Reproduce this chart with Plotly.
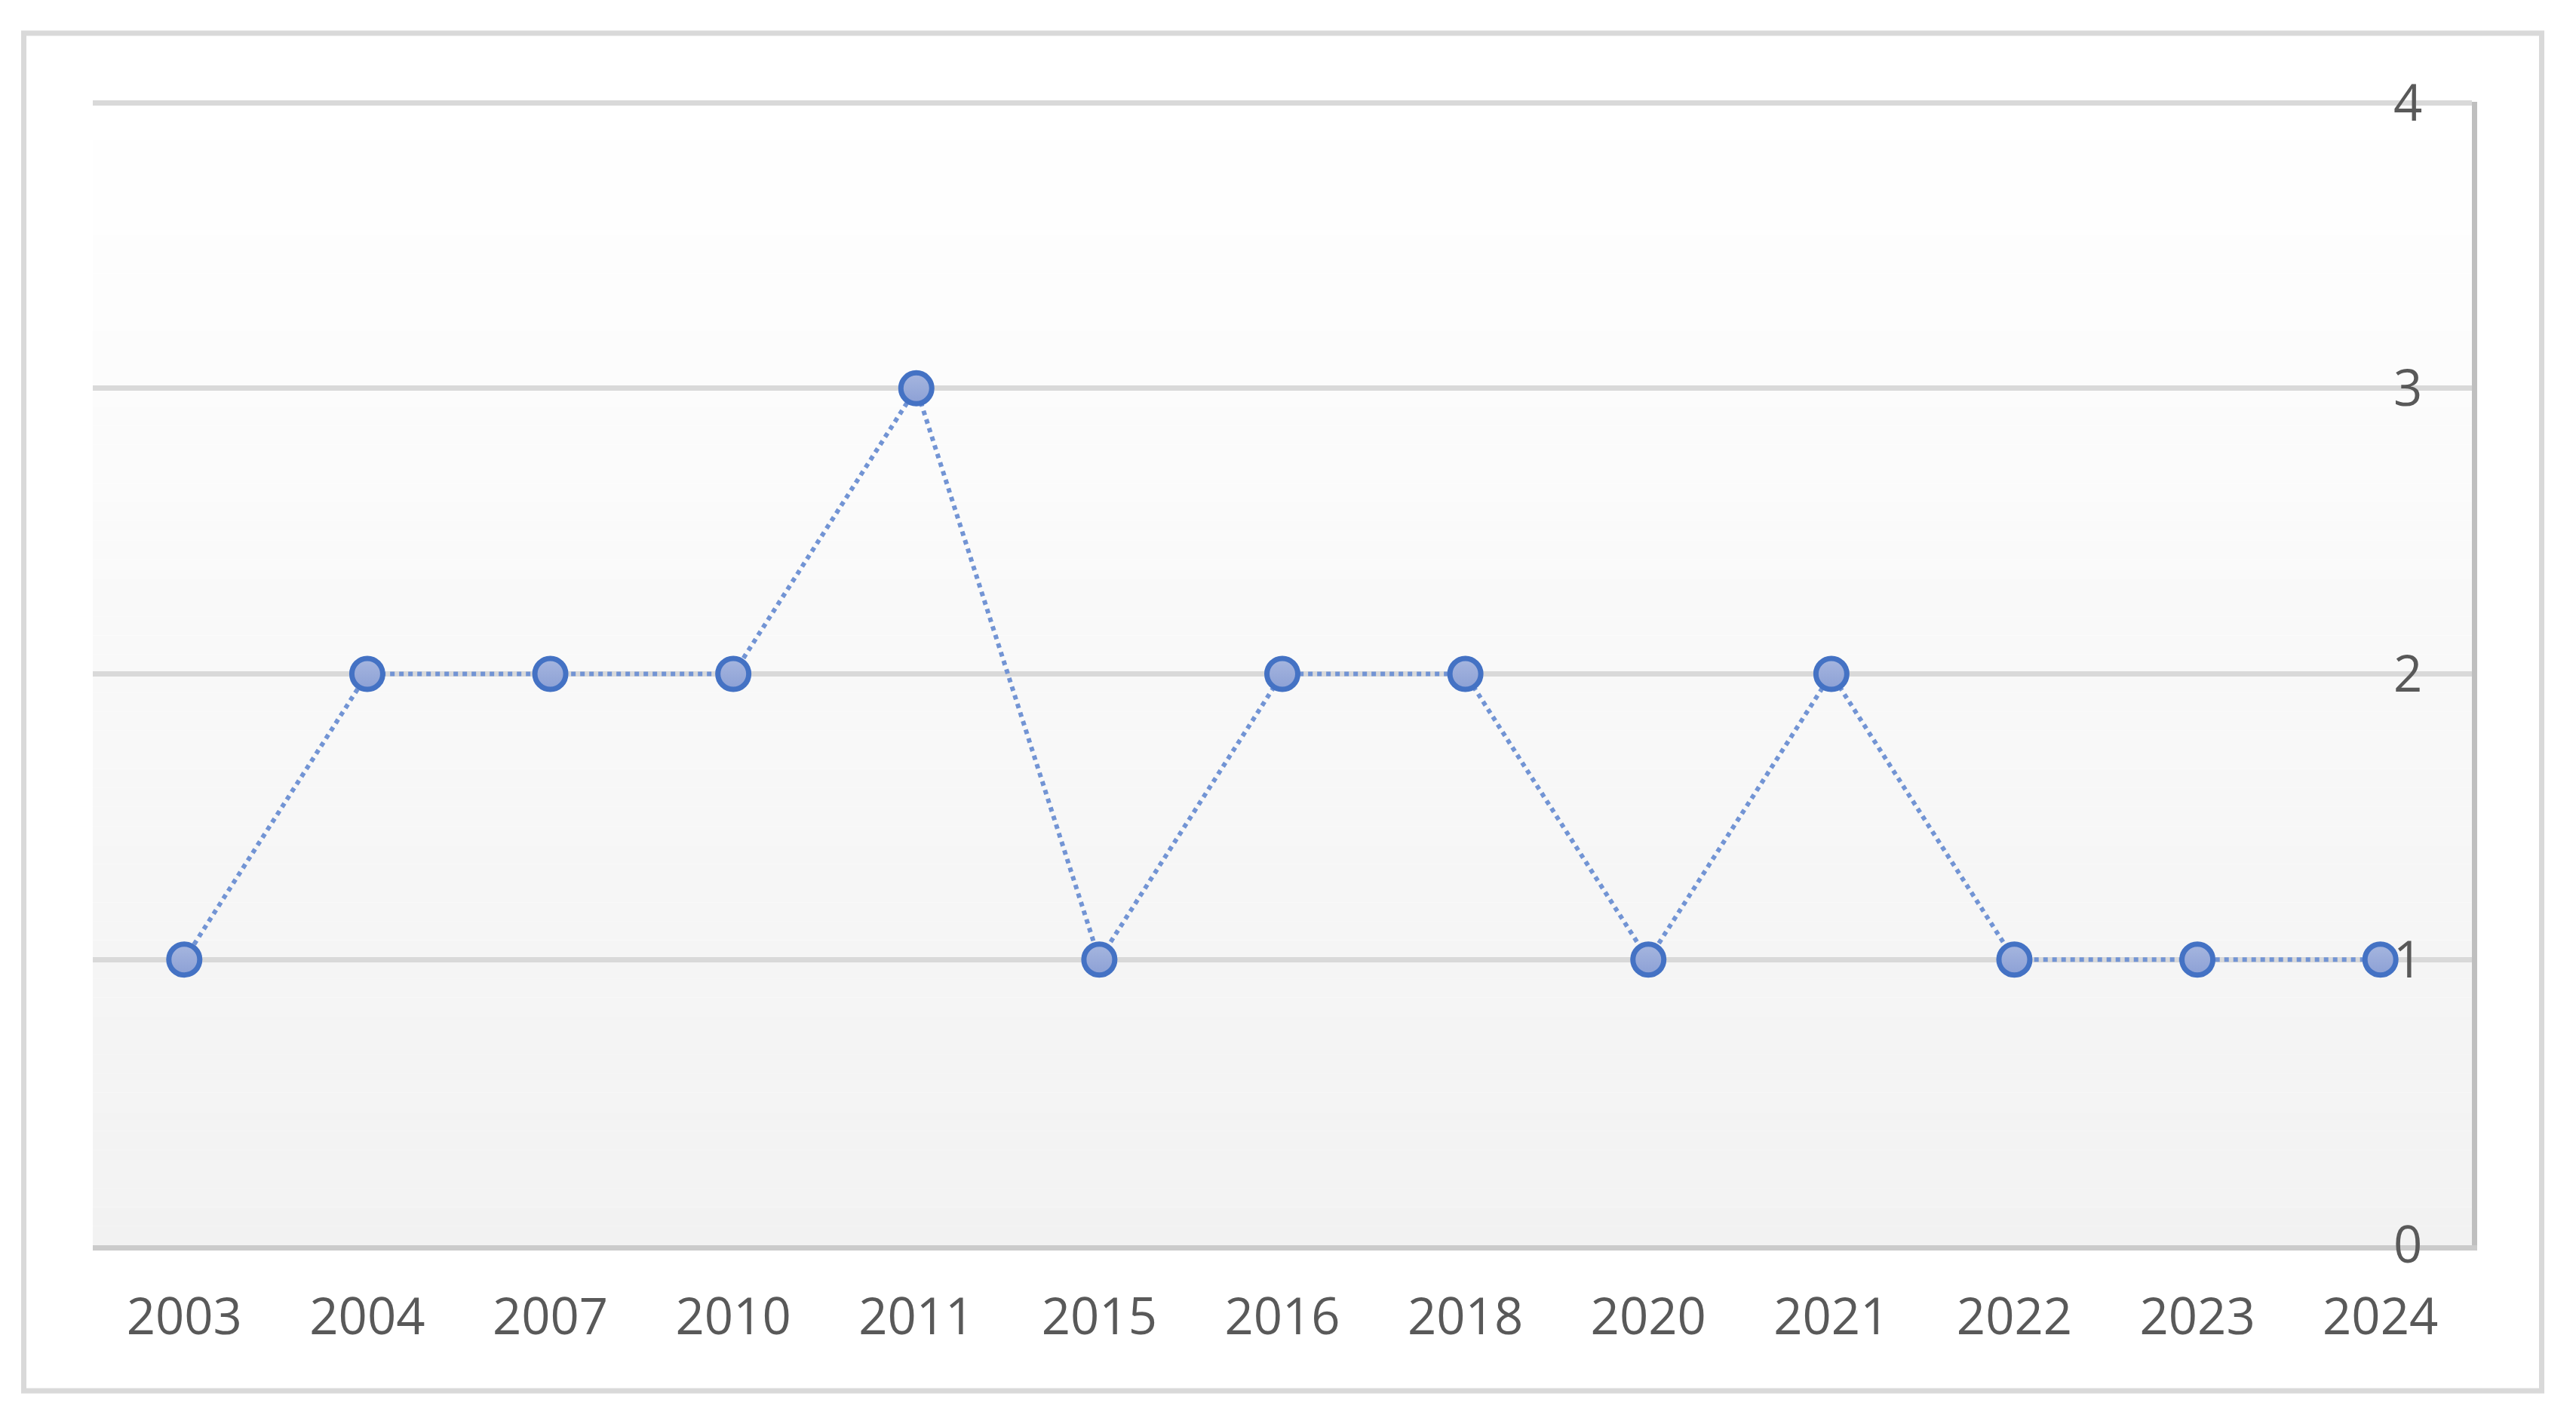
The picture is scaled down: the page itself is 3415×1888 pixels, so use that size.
import plotly.graph_objects as go

years = ["2003", "2004", "2007", "2010", "2011", "2015", "2016",
         "2018", "2020", "2021", "2022", "2023", "2024"]
counts = [1, 2, 2, 2, 3, 1, 2, 2, 1, 2, 1, 1, 1]
y_ticks = [0, 1, 2, 3, 4]

OFF = 8  # default browser body margin
W, H = 3415 - OFF, 1888 - OFF
L, R, T, B = 123 - OFF, 3277 - OFF, 135 - OFF, 1651 - OFF  # plot area edges
pw, ph = R - L, B - T

def px_x(x):
    return (x - OFF - L) / pw

def px_y(y):
    return (B - (y - OFF)) / ph

FONT = "Open Sans, Segoe UI, Noto Sans, sans-serif"
TXT = "#595959"

fig = go.Figure()
fig.add_trace(go.Scatter(
    x=years, y=counts, mode="lines+markers",
    line=dict(color="#7294D4", width=6, dash="dot"),
    marker=dict(size=41, color="#A6B6DF",
                gradient=dict(type="vertical", color="#8CA0D5"),
                line=dict(color="#4472C4", width=7)),
    showlegend=False, hoverinfo="x+y",
))

# vertical gradient background of plot area (white -> light grey)
shapes = []
n = 60
for i in range(n):
    t = (i + 0.5) / n
    c0, c1 = 255, 242
    v = round(c0 + (c1 - c0) * t)
    shapes.append(dict(type="rect", xref="paper", yref="paper",
                       x0=0, x1=1, y0=1 - (i + 1) / n, y1=1 - i / n,
                       fillcolor=f"rgb({v},{v},{v})", line=dict(width=0),
                       layer="below"))
# outer chart border
shapes.append(dict(type="rect", xref="paper", yref="paper",
                   x0=px_x(31.5), x1=px_x(3369.5), y0=px_y(1844), y1=px_y(44),
                   line=dict(color="#D9D9D9", width=7), fillcolor="rgba(0,0,0,0)",
                   layer="below"))

fig.update_layout(
    width=W, height=H,
    margin=dict(l=L, r=W - R, t=T, b=H - B, pad=0, autoexpand=False),
    paper_bgcolor="white", plot_bgcolor="rgba(0,0,0,0)",
    font=dict(family=FONT, size=67, color=TXT),
    shapes=shapes,
    xaxis=dict(type="category", categoryorder="array", categoryarray=years,
               range=[-0.5, len(years) - 0.5], automargin=False,
               showgrid=False, zeroline=False,
               showline=True, linecolor="#CBCBCB", linewidth=7,
               ticks="", ticklabelstandoff=31,
               tickfont=dict(family=FONT, size=67, color=TXT)),
    yaxis=dict(range=[0, 4.003], side="right", tickvals=y_ticks, automargin=False,
               ticklabelposition="inside", ticklabelstandoff=76,
               ticklabeloverflow="allow",
               showgrid=True, gridcolor="#D9D9D9", gridwidth=7,
               zeroline=False, showline=True, linecolor="#BFBFBF", linewidth=7,
               ticks="", tickfont=dict(family=FONT, size=67, color=TXT)),
)

fig.write_html("out.html")
